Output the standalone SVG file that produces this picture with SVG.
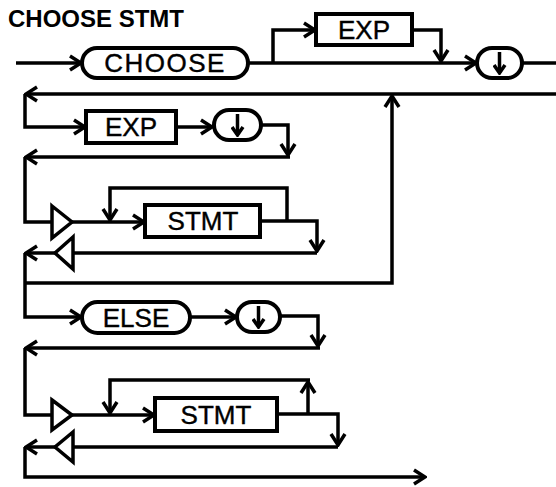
<svg xmlns="http://www.w3.org/2000/svg" width="556" height="487" viewBox="0 0 556 487">
<style>
.ln{fill:none;stroke:#000;stroke-width:3.5;stroke-linejoin:miter}
.ar{marker-end:url(#a)}
.bx{fill:#fff;stroke:#000;stroke-width:4}
.tri{fill:#fff;stroke:#000;stroke-width:3.5;stroke-linejoin:miter}
.lb{font-family:"Liberation Sans",Arial,sans-serif;font-size:26px;fill:#000;stroke:#000;stroke-width:0.4;text-anchor:middle}
.ttl{font-family:"Liberation Sans",Arial,sans-serif;font-size:24px;font-weight:bold;fill:#000}
</style>
<defs>
<marker id="a" viewBox="-13 -9 15 18" refX="0" refY="0" markerWidth="15" markerHeight="18" markerUnits="userSpaceOnUse" orient="auto">
<path d="M-11,-7 L0,0 L-11,7" fill="none" stroke="#000" stroke-width="3.5"/>
</marker>
<marker id="s" viewBox="-10 -7 12 14" refX="0" refY="0" markerWidth="12" markerHeight="14" markerUnits="userSpaceOnUse" orient="auto">
<path d="M-8,-5.5 L0,0 L-8,5.5" fill="none" stroke="#000" stroke-width="3.5"/>
</marker>
</defs>
<text class="ttl" x="8" y="27">CHOOSE STMT</text>
<g id="connectors">
<path class="ln ar" d="M16,63 H81"/>
<path class="ln ar" d="M248,63 H476"/>
<path class="ln" d="M522,63 H556"/>
<path class="ln ar" d="M273,63 V30 H315"/>
<path class="ln ar" d="M412,30 H441 V61"/>
<path class="ln ar" d="M556,94 H26"/>
<path class="ln ar" d="M25,94 V127 H85"/>
<path class="ln ar" d="M176,127 H212"/>
<path class="ln ar" d="M261,125 H288 V155"/>
<path class="ln ar" d="M290,157 H26"/>
<path class="ln" d="M25,157 V222 H52"/>
<path class="ln ar" d="M72,222 H144"/>
<path class="ln ar" d="M287,222 V188 H110 V220"/>
<path class="ln ar" d="M260,221 H317 V251"/>
<path class="ln" d="M317,253 H73"/>
<path class="ln ar" d="M55,253 H26"/>
<path class="ln ar" d="M25,253 V317 H81"/>
<path class="ln ar" d="M25,283 H392 V96"/>
<path class="ln ar" d="M190,317 H236"/>
<path class="ln ar" d="M280,316 H318 V346"/>
<path class="ln ar" d="M320,348 H26"/>
<path class="ln" d="M25,348 V415 H52"/>
<path class="ln ar" d="M72,415 H154"/>
<path class="ln ar" d="M308,414 V382"/>
<path class="ln ar" d="M310,380 H110 V413"/>
<path class="ln ar" d="M277,414 H338 V445"/>
<path class="ln" d="M338,447 H73"/>
<path class="ln ar" d="M55,447 H26"/>
<path class="ln ar" d="M25,447 V477 H425"/>
</g>
<g id="choose">
<rect class="bx" x="82" y="48" width="166" height="30" rx="15"/>
<text class="lb" x="165" y="72.3" style="letter-spacing:1.5px">CHOOSE</text>
</g>
<g id="exp1">
<rect class="bx" x="316" y="14" width="96" height="31"/>
<text class="lb" x="364" y="38.8">EXP</text>
</g>
<g id="semi1">
<rect class="bx" x="477" y="48" width="45" height="30" rx="15"/>
<path class="ln" d="M499.5,52 V73" marker-end="url(#s)"/>
</g>
<g id="exp2">
<rect class="bx" x="86" y="111" width="90" height="32"/>
<text class="lb" x="131" y="136.3">EXP</text>
</g>
<g id="semi2">
<rect class="bx" x="214" y="110" width="47" height="30" rx="15"/>
<path class="ln" d="M237.5,114 V135" marker-end="url(#s)"/>
</g>
<g id="tri1"><path class="tri" d="M52,206 L72,222 L52,238 Z"/></g>
<g id="stmt1">
<rect class="bx" x="145" y="205" width="115" height="32"/>
<text class="lb" x="203" y="230.3">STMT</text>
</g>
<g id="tri2"><path class="tri" d="M73,237 L55,253 L73,269 Z"/></g>
<g id="else">
<rect class="bx" x="82" y="302" width="108" height="31" rx="15.5"/>
<text class="lb" x="136" y="326.8">ELSE</text>
</g>
<g id="semi3">
<rect class="bx" x="237" y="302" width="43" height="30" rx="15"/>
<path class="ln" d="M258.5,306 V327" marker-end="url(#s)"/>
</g>
<g id="tri3"><path class="tri" d="M52,400 L72,415 L52,430 Z"/></g>
<g id="stmt2">
<rect class="bx" x="155" y="398" width="122" height="33"/>
<text class="lb" x="216" y="424">STMT</text>
</g>
<g id="tri4"><path class="tri" d="M73,432 L55,447 L73,462 Z"/></g>
</svg>
